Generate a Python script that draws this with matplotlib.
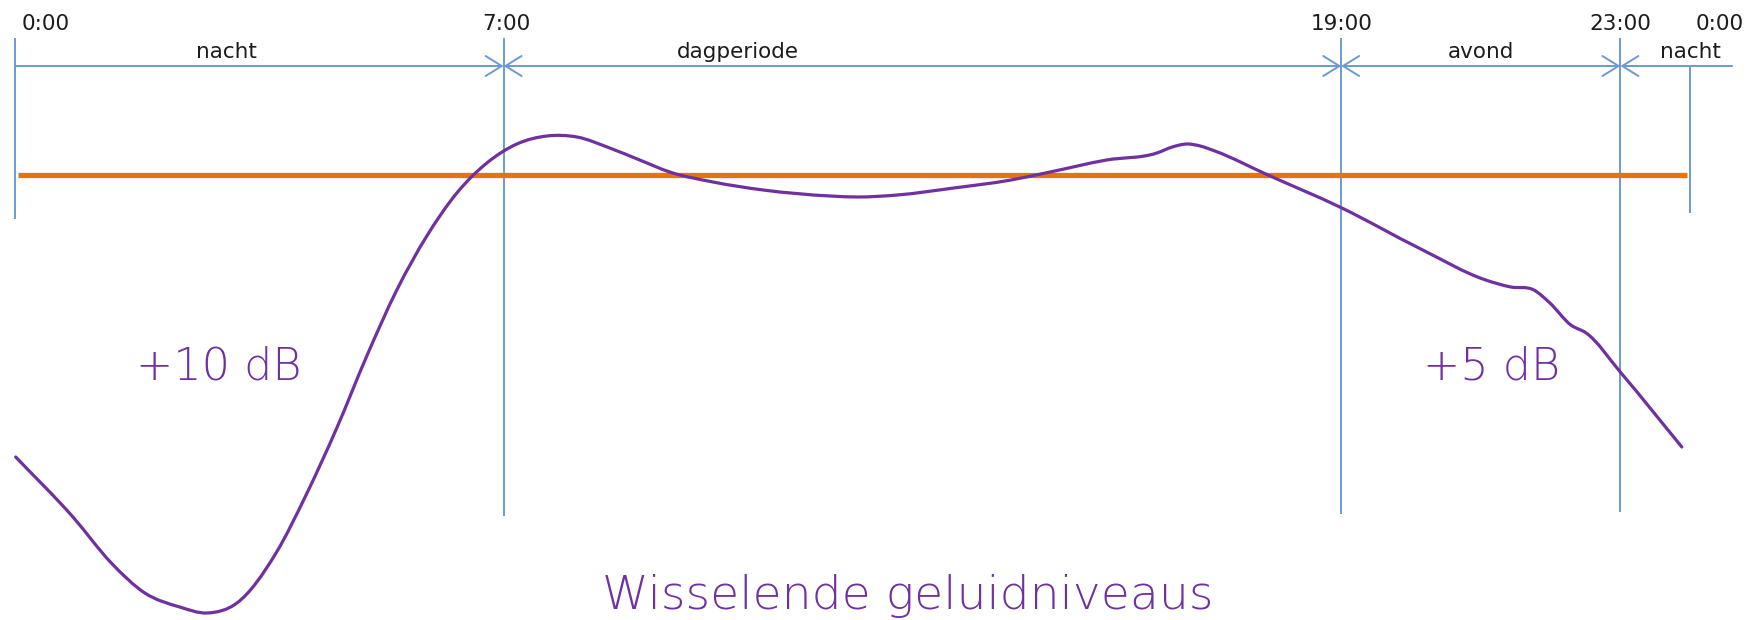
import matplotlib
matplotlib.use("Agg")
import matplotlib.pyplot as plt
from matplotlib.path import Path
from matplotlib.patches import PathPatch

# ---------------- data ----------------
# hour of day and relative sound level (dB) of the varying noise curve
curve_hours = [0.01, 0.83, 1.38, 1.86, 2.36, 2.75, 3.18, 3.74, 4.17, 4.61, 5.04, 5.47,
               5.90, 6.33, 6.76, 7.19, 7.62, 8.05, 8.52, 8.95, 9.38, 10.0, 10.72, 11.68,
               12.08, 12.64, 13.45, 14.27, 14.83, 15.64, 16.36, 16.58, 16.79, 16.98,
               17.19, 17.95, 18.98, 20.14, 21.07, 21.43, 21.76, 21.99, 22.29, 22.51,
               23.01, 23.88]
curve_levels = [45.9, 42.9, 40.6, 39.1, 38.4, 38.1, 38.6, 41.1, 44.0, 47.35, 50.95, 54.25,
                56.95, 59.1, 60.6, 61.55, 61.95, 61.9, 61.35, 60.75, 60.15, 59.65, 59.25, 58.95,
                58.9, 59.0, 59.35, 59.75, 60.15, 60.75, 61.1, 61.4, 61.55, 61.45,
                61.2, 60.0, 58.4, 56.3, 54.75, 54.4, 54.25, 53.6, 52.5, 52.1,
                50.1, 46.4]

# constant (average) level line
avg_hours = [0.05, 23.95]
avg_levels = [60.0, 60.0]

# period boundaries and labels
boundary_hours = [0, 7, 19, 23, 24]
boundary_labels = ["0:00", "7:00", "19:00", "23:00", "0:00"]
period_names = ["nacht", "dagperiode", "avond", "nacht"]
penalty_labels = ["+10 dB", "+5 dB"]
title_text = "Wisselende geluidniveaus"

# ---------------- layout helpers ----------------
PX_PER_HOUR = 69.8
X0_PX = 15.0
PX_PER_DB = 20.0
REF_LEVEL, REF_PX = 60.0, 175.0
W, H = 1760, 620


def hx(px):
    return (px - X0_PX) / PX_PER_HOUR


def ly(py):
    return REF_LEVEL - (py - REF_PX) / PX_PER_DB


def smooth_path(xs, ys):
    """Smooth cubic Hermite curve through the data points (as Bezier path)."""
    n = len(xs)
    h = [xs[i + 1] - xs[i] for i in range(n - 1)]
    d = [(ys[i + 1] - ys[i]) / h[i] for i in range(n - 1)]
    m = [0.0] * n
    m[0], m[-1] = d[0], d[-1]
    for i in range(1, n - 1):
        m[i] = (d[i - 1] * h[i] + d[i] * h[i - 1]) / (h[i - 1] + h[i])
    verts = [(xs[0], ys[0])]
    codes = [Path.MOVETO]
    for i in range(n - 1):
        c1 = (xs[i] + h[i] / 3.0, ys[i] + m[i] * h[i] / 3.0)
        c2 = (xs[i + 1] - h[i] / 3.0, ys[i + 1] - m[i + 1] * h[i] / 3.0)
        verts += [c1, c2, (xs[i + 1], ys[i + 1])]
        codes += [Path.CURVE4] * 3
    return Path(verts, codes)


BLUE = "#6A9AD3"
ORANGE = "#E5740B"
PURPLE = "#7030A0"
DARK = "#1c1c1c"

fig = plt.figure(figsize=(W / 100, H / 100), dpi=100)
ax = fig.add_axes([0, 0, 1, 1])
ax.set_xlim(hx(0), hx(W))
ax.set_ylim(ly(H), ly(0))
ax.axis("off")

# vertical boundary lines (top px, bottom px)
vline_spans = [(38, 219), (38, 516), (38, 514), (38, 512), (67, 213)]
for hh, (top, bot) in zip(boundary_hours, vline_spans):
    ax.plot([hh, hh], [ly(top), ly(bot)], color=BLUE, lw=1.4, solid_capstyle="butt", zorder=2)

# horizontal period line with open arrowheads
yh = ly(66)
astyle = "->,head_length=0.58,head_width=0.36"
bstyle = "<->,head_length=0.58,head_width=0.36"
common = dict(color=BLUE, lw=1.4, shrinkA=0, shrinkB=0)
ax.annotate("", xy=(7, yh), xytext=(0, yh),
            arrowprops=dict(arrowstyle=astyle, mutation_scale=20, **common))
ax.annotate("", xy=(19, yh), xytext=(7, yh),
            arrowprops=dict(arrowstyle=bstyle, mutation_scale=20, **common))
ax.annotate("", xy=(23, yh), xytext=(19, yh),
            arrowprops=dict(arrowstyle=bstyle, mutation_scale=20, **common))
ax.annotate("", xy=(23, yh), xytext=(hx(1732), yh),
            arrowprops=dict(arrowstyle=astyle, mutation_scale=20, **common))

# time labels
tfont = dict(family="DejaVu Sans", fontsize=15.5, color=DARK, va="center")
time_label_px = [(22, "left"), (506, "center"), (1342, "center"), (1620, "center"), (1720, "center")]
for lab, (px, ha) in zip(boundary_labels, time_label_px):
    ax.text(hx(px), ly(24), lab, ha=ha, **tfont)

# period labels
period_px = [226, 738, 1481, 1690]
for name, px in zip(period_names, period_px):
    ax.text(hx(px), ly(52), name, ha="center", **tfont)

# average level line
ax.plot(avg_hours, avg_levels, color=ORANGE, lw=3.8, solid_capstyle="butt", zorder=3)

# varying level curve (smooth line through the read points)
ax.add_patch(PathPatch(smooth_path(curve_hours, curve_levels), fill=False,
                       edgecolor=PURPLE, lw=2.3, capstyle="round", joinstyle="round",
                       zorder=4))

# penalty labels
pfont = dict(family="DejaVu Sans", fontweight="light", fontsize=32,
             color=PURPLE, ha="center", va="center")
ax.text(hx(219), ly(367), penalty_labels[0], **pfont)
ax.text(hx(1492), ly(367), penalty_labels[1], **pfont)

# title
ax.text(hx(908), ly(609), title_text, family="DejaVu Sans",
        fontweight="light", fontsize=34, color=PURPLE, ha="center", va="baseline")

fig.savefig("out.png", dpi=100)
